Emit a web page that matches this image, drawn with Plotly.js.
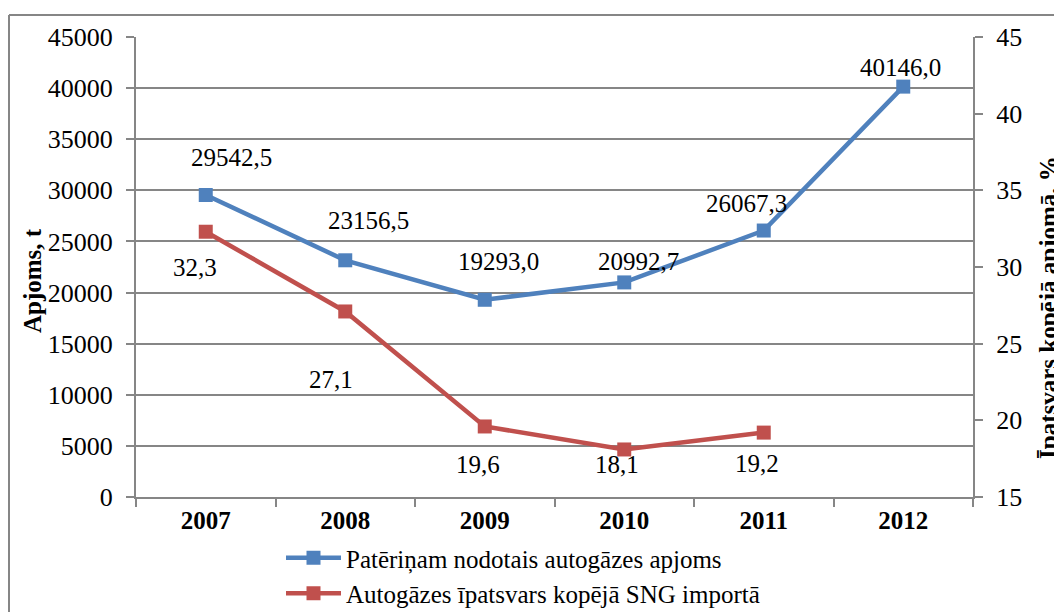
<!DOCTYPE html>
<html>
<head>
<meta charset="utf-8">
<script src="https://cdn.plot.ly/plotly-3.0.1.min.js"></script>
<style>html,body{margin:0;padding:0;background:#fff;}#chart{width:1054px;height:612px;}</style>
</head>
<body>
<div id="chart"></div>
<script>
var years = ['2007', '2008', '2009', '2010', '2011', '2012'];
var volumeTonnes = [29542.5, 23156.5, 19293.0, 20992.7, 26067.3, 40146.0];
var shareYears = ['2007', '2008', '2009', '2010', '2011'];
var sharePercent = [32.3, 27.1, 19.6, 18.1, 19.2];
var seriesNames = ['Patēriņam nodotais autogāzes apjoms', 'Autogāzes īpatsvars kopējā SNG importā'];
var leftTitle = 'Apjoms, t';
var rightTitle = 'Īpatsvars kopējā apjomā, %';

var FONT = 'Liberation Serif, Times New Roman, serif';
var BLUE = '#4F81BD', RED = '#C0504D', GRID = '#868686';

function fmt(v) { return v.toFixed(1).replace('.', ','); }

var traces = [
  {x: years, y: volumeTonnes, name: seriesNames[0], type: 'scatter', mode: 'lines+markers',
   line: {color: BLUE, width: 4.5}, marker: {symbol: 'square', size: 14, color: BLUE}, yaxis: 'y', cliponaxis: false},
  {x: shareYears, y: sharePercent, name: seriesNames[1], type: 'scatter', mode: 'lines+markers',
   line: {color: RED, width: 4.5}, marker: {symbol: 'square', size: 14, color: RED}, yaxis: 'y2', cliponaxis: false}
];

var blueShift = [[26, -38], [23, -40], [14, -38], [14, -21], [-17, -27], [-3, -19]];
var redShift = [[-11, 36], [-14, 68], [-7, 38], [-7, 15], [-7, 31]];

var annotations = [];
volumeTonnes.forEach(function (v, i) {
  annotations.push({x: years.indexOf(years[i]), y: v, xref: 'x', yref: 'y', text: fmt(v), showarrow: false,
    xshift: blueShift[i][0], yshift: -blueShift[i][1], font: {family: FONT, size: 25, color: '#000'}});
});
sharePercent.forEach(function (v, i) {
  annotations.push({x: years.indexOf(shareYears[i]), y: v, xref: 'x', yref: 'y2', text: fmt(v), showarrow: false,
    xshift: redShift[i][0], yshift: -redShift[i][1], font: {family: FONT, size: 25, color: '#000'}});
});
annotations.push({xref: 'paper', yref: 'paper', x: (32 - 136) / 837, y: (497 - 281) / 460, text: '<b>' + leftTitle + '</b>',
  textangle: -90, showarrow: false, font: {family: FONT, size: 25, color: '#000'}, xanchor: 'center', yanchor: 'middle'});
annotations.push({xref: 'paper', yref: 'paper', x: (1048 - 136) / 837, y: (497 - 308) / 460, text: '<b>' + rightTitle + '</b>',
  textangle: -90, showarrow: false, font: {family: FONT, size: 25, color: '#000'}, xanchor: 'center', yanchor: 'middle'});

var layout = {
  width: 1054, height: 612,
  margin: {l: 136, r: 81, t: 37, b: 115, autoexpand: false},
  paper_bgcolor: '#fff', plot_bgcolor: '#fff',
  font: {family: FONT, size: 25, color: '#000'},
  showlegend: true,
  legend: {orientation: 'v', x: (281 - 136) / 837, xanchor: 'left', y: (497 - 535) / 460, yanchor: 'top',
    font: {family: FONT, size: 25, color: '#000'}, bgcolor: 'rgba(0,0,0,0)', tracegroupgap: 0, itemwidth: 55},
  xaxis: {type: 'category', range: [-0.5, 5.5], showgrid: false, showline: true, linecolor: GRID, linewidth: 2,
    ticks: 'outside', tickson: 'boundaries', ticklen: 8, tickcolor: GRID, tickwidth: 2,
    tickfont: {family: FONT, size: 25, color: '#000', weight: 'bold'}, zeroline: false, fixedrange: true},
  yaxis: {range: [0, 45000], dtick: 5000, tick0: 0, showgrid: true, gridcolor: GRID, gridwidth: 2,
    showline: true, linecolor: GRID, linewidth: 2, ticks: 'outside', ticklen: 8, tickcolor: GRID, tickwidth: 2,
    ticklabelstandoff: 8, zeroline: false, tickfont: {family: FONT, size: 26, color: '#000'}, tickformat: 'd'},
  yaxis2: {range: [15, 45], dtick: 5, tick0: 15, overlaying: 'y', side: 'right', showgrid: false,
    showline: true, linecolor: GRID, linewidth: 2, ticks: 'outside', ticklen: 8, tickcolor: GRID, tickwidth: 2,
    ticklabelstandoff: 8, zeroline: false, tickfont: {family: FONT, size: 26, color: '#000'}},
  shapes: [
    {type: 'line', xref: 'paper', yref: 'paper', x0: (9 - 136) / 837, x1: (1060 - 136) / 837,
     y0: (497 - 15) / 460, y1: (497 - 15) / 460, line: {color: GRID, width: 2}},
    {type: 'line', xref: 'paper', yref: 'paper', x0: (9 - 136) / 837, x1: (9 - 136) / 837,
     y0: (497 - 15) / 460, y1: (497 - 620) / 460, line: {color: GRID, width: 2}}
  ],
  annotations: annotations
};

Plotly.newPlot('chart', traces, layout, {displayModeBar: false, staticPlot: true});
</script>
</body>
</html>
